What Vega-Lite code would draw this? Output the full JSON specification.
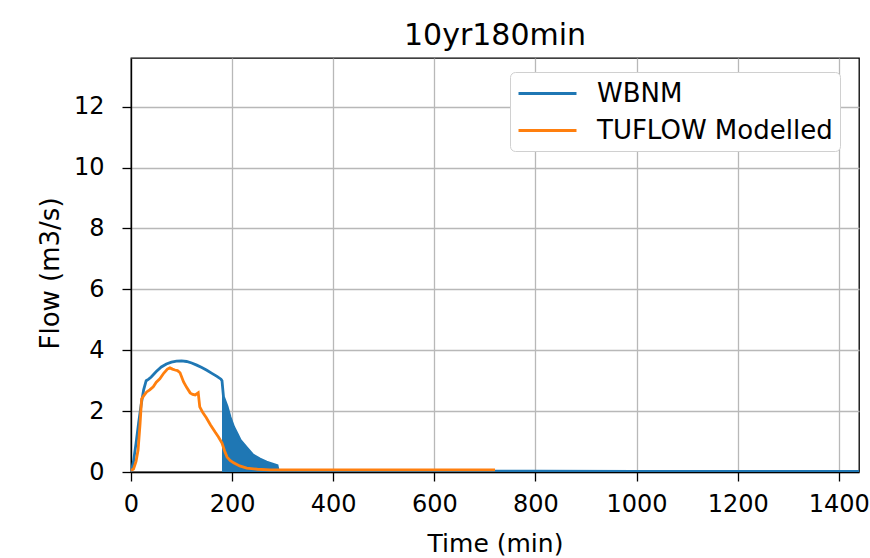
{
  "$schema": "https://vega.github.io/schema/vega-lite/v6.json",
  "width": 728,
  "height": 414,
  "autosize": {"type": "none"},
  "padding": {"left": 131, "top": 58, "right": 11, "bottom": 86},
  "background": "white",
  "title": {"text": "10yr180min", "fontSize": 30, "font": "DejaVu Sans", "fontWeight": "normal", "color": "#000000", "baseline": "alphabetic", "offset": 16, "dy": 33, "anchor": "middle"},
  "config": {
    "view": {"stroke": "#000000", "strokeWidth": 1.3},
    "font": "DejaVu Sans",
    "axis": {
      "domainColor": "#000000", "domainWidth": 1.3,
      "tickColor": "#000000", "tickWidth": 1.3, "tickSize": 9,
      "labelFont": "DejaVu Sans", "labelFontSize": 24, "labelColor": "#000000",
      "titleFont": "DejaVu Sans", "titleFontSize": 25, "titleFontWeight": "normal", "titleColor": "#000000",
      "grid": true, "gridColor": "#b8b8b8", "gridWidth": 1.3
    },
    "legend": {
      "labelFont": "DejaVu Sans", "labelFontSize": 26, "labelColor": "#000000", "labelLimit": 400,
      "strokeColor": "#d0d0d0", "fillColor": "white", "cornerRadius": 5
    }
  },
  "datasets": {
    "wbnm": [
      {"t": 0, "q": 0}, {"t": 5, "q": 0.35}, {"t": 10, "q": 0.95}, {"t": 15, "q": 1.6}, {"t": 20, "q": 2.2},
      {"t": 25, "q": 2.7}, {"t": 30, "q": 3.0}, {"t": 35, "q": 3.05}, {"t": 40, "q": 3.12}, {"t": 50, "q": 3.3},
      {"t": 60, "q": 3.45}, {"t": 70, "q": 3.55}, {"t": 80, "q": 3.61}, {"t": 90, "q": 3.64}, {"t": 100, "q": 3.65},
      {"t": 110, "q": 3.63}, {"t": 120, "q": 3.58}, {"t": 130, "q": 3.51}, {"t": 140, "q": 3.43}, {"t": 150, "q": 3.34},
      {"t": 160, "q": 3.24}, {"t": 170, "q": 3.14}, {"t": 178, "q": 3.05}, {"t": 180, "q": 3.0}, {"t": 183, "q": 2.46},
      {"t": 190, "q": 2.15}, {"t": 196, "q": 1.8}, {"t": 203, "q": 1.48}, {"t": 210, "q": 1.25}, {"t": 216, "q": 1.05},
      {"t": 229, "q": 0.79}, {"t": 241, "q": 0.56}, {"t": 255, "q": 0.43}, {"t": 268, "q": 0.33}, {"t": 280, "q": 0.26},
      {"t": 289, "q": 0.21}, {"t": 291, "q": 0.05}, {"t": 400, "q": 0.04}, {"t": 600, "q": 0.03}, {"t": 800, "q": 0.03},
      {"t": 1000, "q": 0.02}, {"t": 1200, "q": 0.02}, {"t": 1440, "q": 0.02}
    ],
    "tuflow": [
      {"t": 0, "q": 0.05}, {"t": 5, "q": 0.1}, {"t": 10, "q": 0.35}, {"t": 14, "q": 0.72}, {"t": 18, "q": 1.6},
      {"t": 21, "q": 2.4}, {"t": 25, "q": 2.5}, {"t": 31, "q": 2.63}, {"t": 37, "q": 2.7}, {"t": 44, "q": 2.8},
      {"t": 50, "q": 2.95}, {"t": 57, "q": 3.06}, {"t": 65, "q": 3.25}, {"t": 72, "q": 3.38}, {"t": 77, "q": 3.42},
      {"t": 82, "q": 3.38}, {"t": 87, "q": 3.35}, {"t": 92, "q": 3.33}, {"t": 97, "q": 3.26}, {"t": 104, "q": 2.96},
      {"t": 110, "q": 2.78}, {"t": 117, "q": 2.6}, {"t": 122, "q": 2.55}, {"t": 127, "q": 2.53}, {"t": 133, "q": 2.6},
      {"t": 136, "q": 2.14}, {"t": 142, "q": 1.95}, {"t": 149, "q": 1.78}, {"t": 157, "q": 1.55}, {"t": 166, "q": 1.32},
      {"t": 173, "q": 1.15}, {"t": 180, "q": 0.95}, {"t": 185, "q": 0.7}, {"t": 190, "q": 0.49}, {"t": 196, "q": 0.38},
      {"t": 203, "q": 0.3}, {"t": 215, "q": 0.2}, {"t": 229, "q": 0.13}, {"t": 250, "q": 0.09}, {"t": 275, "q": 0.07},
      {"t": 400, "q": 0.07}, {"t": 600, "q": 0.07}, {"t": 720, "q": 0.07}
    ]
  },
  "encoding": {
    "x": {
      "field": "t", "type": "quantitative",
      "scale": {"domain": [0, 1440], "nice": false, "zero": false},
      "axis": {"values": [0, 200, 400, 600, 800, 1000, 1200, 1400], "format": "d", "title": "Time (min)", "labelPadding": 11, "labelFlush": false, "titleY": 79, "titleX": 364, "titleBaseline": "alphabetic", "titleAnchor": "middle"}
    },
    "y": {
      "field": "q", "type": "quantitative",
      "scale": {"domain": [0, 13.6], "nice": false},
      "axis": {"values": [0, 2, 4, 6, 8, 10, 12], "format": "d", "title": "Flow (m3/s)", "titleFontSize": 26, "labelPadding": 18, "labelFlush": false, "titleX": -73, "titleY": 215, "titleBaseline": "alphabetic", "titleAngle": -90}
    }
  },
  "layer": [
    {
      "data": {"name": "wbnm"},
      "transform": [{"filter": "datum.t >= 180 && datum.t <= 291"}],
      "mark": {"type": "area", "color": "#1f77b4", "opacity": 1, "clip": true}
    },
    {
      "data": {"name": "wbnm"},
      "mark": {"type": "line", "strokeWidth": 2.8, "clip": true},
      "encoding": {
        "color": {
          "datum": "WBNM",
          "scale": {"domain": ["WBNM", "TUFLOW Modelled"], "range": ["#1f77b4", "#ff7f0e"]},
          "legend": {
            "title": null, "orient": "none", "legendX": 379, "legendY": 14,
            "symbolType": "M-2.23,0H2.23", "symbolSize": 676, "symbolStrokeWidth": 3,
            "symbolOffset": 16, "labelOffset": 35, "rowPadding": 9, "padding": 7
          }
        }
      }
    },
    {
      "data": {"name": "tuflow"},
      "mark": {"type": "line", "strokeWidth": 2.8, "clip": true},
      "encoding": {"color": {"datum": "TUFLOW Modelled"}}
    }
  ]
}
